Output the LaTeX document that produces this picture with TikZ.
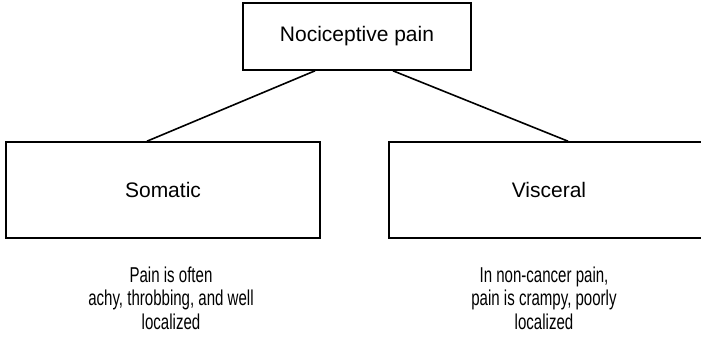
\documentclass[tikz,border=0pt]{standalone}
\usepackage{fontspec}
\setmainfont{Liberation Sans}
\newfontfamily\condfont[FakeStretch=0.7]{Liberation Sans}
\usetikzlibrary{positioning,calc}

\tikzset{
    box/.style={draw, line width=1.6pt, inner sep=0pt,
        font=\fontsize{21}{25}\selectfont},
    note/.style={align=center,
        font=\condfont\fontsize{21.5}{23.5}\selectfont}
}

\begin{document}
\begin{tikzpicture}[x=1pt,y=-1pt]
    \clip (0,0) rectangle (701,340);

    \node[box, minimum width=228pt, minimum height=67pt] (pain) at (357,36.5) {Nociceptive pain};
    \node[box, minimum width=314pt, minimum height=96pt] (somatic) at (163,190) {Somatic};
    \node[box, minimum width=312pt, minimum height=96pt, text width=316pt, align=center] (visceral) at (547,190) {\hspace*{4pt}Visceral};

    \draw[line width=1.6pt] ([xshift=-42pt]pain.south) -- ([xshift=-16pt]somatic.north);
    \draw[line width=1.6pt] ([xshift=36pt]pain.south) -- ([xshift=21pt]visceral.north);

    \node[note] (somnote) at (171,298) {Pain is often\\achy, throbbing, and well\\localized};
    \node[note] (visnote) at (544,298) {In non-cancer pain,\\pain is crampy, poorly\\localized};
\end{tikzpicture}
\end{document}
